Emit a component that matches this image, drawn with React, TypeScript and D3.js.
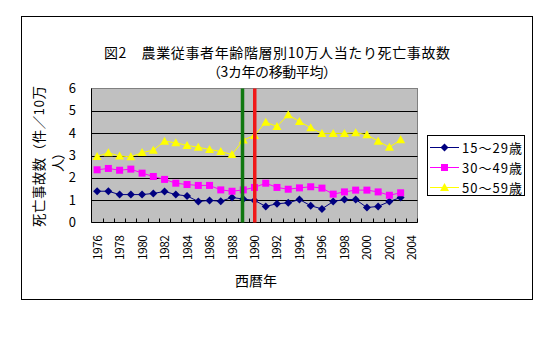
import React from "react";
import * as d3 from "d3";

const years = d3.range(1976, 2005).map(String);
const dataYears = d3.range(1976, 2004).map(String);
const tickLabels = d3.range(1976, 2005, 2).map(String);
const yTicks = [0, 1, 2, 3, 4, 5, 6];

const s1529 = [1.40, 1.40, 1.25, 1.25, 1.25, 1.30, 1.39, 1.25, 1.19, 0.94, 0.99, 0.95, 1.12, 1.05, 0.99, 0.72, 0.84, 0.88, 1.03, 0.75, 0.61, 0.94, 1.03, 1.03, 0.67, 0.72, 0.94, 1.12];
const s3049 = [2.36, 2.42, 2.34, 2.39, 2.21, 2.06, 1.93, 1.76, 1.70, 1.66, 1.66, 1.46, 1.40, 1.46, 1.57, 1.76, 1.57, 1.49, 1.55, 1.60, 1.54, 1.27, 1.37, 1.45, 1.45, 1.37, 1.22, 1.33];
const s5059 = [2.96, 3.12, 2.98, 2.94, 3.13, 3.24, 3.64, 3.57, 3.45, 3.37, 3.27, 3.18, 3.04, 3.69, 3.90, 4.49, 4.30, 4.82, 4.52, 4.24, 3.99, 3.99, 3.99, 4.02, 3.93, 3.64, 3.37, 3.70];

const seriesNames = ["15～29歳", "30～49歳", "50～59歳"];
const seriesColors = ["#000080", "#FF00FF", "#FFFF00"];
const seriesShapes = ["diamond", "square", "triangle"];
const markerLines = ["1989", "1990"];
const markerColors = ["#107810", "#F01818"];

const FONT = "'Noto Sans CJK JP', 'Noto Sans', sans-serif";

function Marker({ shape, x, y, color }: { shape: string; x: number; y: number; color: string }) {
  if (shape === "diamond") {
    const r = 4;
    return <path d={`M${x},${y - r}L${x + r},${y}L${x},${y + r}L${x - r},${y}Z`} fill={color} />;
  }
  if (shape === "square") {
    const r = 3.5;
    return <rect x={x - r} y={y - r} width={2 * r} height={2 * r} fill={color} />;
  }
  const r = 4.5;
  return <path d={`M${x},${y - r}L${x + r},${y + r - 1}L${x - r},${y + r - 1}Z`} fill={color} />;
}

export default function App() {
  const W = 551, H = 338;
  const left = 91.5, right = 417.5, top = 88.5, bottom = 222.5;
  const x = d3.scaleBand<string>().domain(years).range([left, right]).padding(0);
  const y = d3.scaleLinear().domain([0, 6]).range([bottom, top]);
  const bw = x.bandwidth();
  const cx = (yr: string) => (x(yr) as number) + bw / 2;
  const series = [s1529, s3049, s5059];
  const line = d3.line<number>().x((_, i) => cx(dataYears[i])).y((v) => y(v));

  return (
    <svg width={W} height={H} style={{ position: "absolute", left: 0, top: 0, fontFamily: FONT }}>
      <rect x={0} y={0} width={W} height={H} fill="#fff" />
      <rect x={21.5} y={16.5} width={511} height={283} fill="#fff" stroke="#000" strokeWidth={1} />
      <text x={104} y={58} fontSize={14} fill="#000" textLength={346} lengthAdjust="spacing">図2　農業従事者年齢階層別10万人当たり死亡事故数</text>
      <text x={207} y={77} fontSize={14} fill="#000" textLength={130} lengthAdjust="spacing">（3カ年の移動平均）</text>

      <rect x={left} y={top} width={right - left} height={bottom - top} fill="#C0C0C0" stroke="#808080" strokeWidth={1} />
      {yTicks.slice(1, -1).map((t) => (
        <line key={t} x1={left} x2={right} y1={Math.round(y(t)) + 0.5} y2={Math.round(y(t)) + 0.5} stroke="#000" strokeWidth={1} />
      ))}
      <line x1={left} x2={left} y1={top} y2={bottom} stroke="#000" />
      <line x1={left} x2={right} y1={bottom} y2={bottom} stroke="#000" />
      {years.slice(1).map((yr) => (
        <line key={yr} x1={Math.round(x(yr) as number) + 0.5} x2={Math.round(x(yr) as number) + 0.5} y1={bottom} y2={bottom - 4} stroke="#000" />
      ))}
      <line x1={right} x2={right} y1={bottom} y2={bottom - 4} stroke="#000" />

      {yTicks.map((t) => (
        <text key={t} x={76} y={y(t) + 4.5} textAnchor="end" fontSize={13} fill="#000">{t}</text>
      ))}
      {tickLabels.map((lb) => (
        <text key={lb} transform={`translate(${cx(lb) + 4.5},235) rotate(-90)`} textAnchor="end" fontSize={12} fill="#000" textLength={25} lengthAdjust="spacing">{lb}</text>
      ))}
      <text x={256} y={286} textAnchor="middle" fontSize={14} fill="#000" textLength={42} lengthAdjust="spacing">西暦年</text>
      <text transform="translate(44,227) rotate(-90)" fontSize={13.5} fill="#000" textLength={141} lengthAdjust="spacing">死亡事故数（件／10万</text>
      <text transform="translate(63,172) rotate(-90)" fontSize={13.5} fill="#000" textLength={26} lengthAdjust="spacing">人）</text>

      {series.map((s, si) => (
        <g key={si}>
          <path d={line(s) || ""} fill="none" stroke={seriesColors[si]} strokeWidth={1} />
          {s.map((v, i) => (
            <Marker key={i} shape={seriesShapes[si]} x={cx(dataYears[i])} y={y(v)} color={seriesColors[si]} />
          ))}
        </g>
      ))}

      {markerLines.map((yr, i) => (
        <rect key={yr} x={cx(yr) - 1.5 - (i === 0 ? 1 : 0)} y={top} width={3.5} height={bottom - top} fill={markerColors[i]} />
      ))}

      <rect x={427.5} y={135.5} width={97} height={60} fill="#fff" stroke="#000" strokeWidth={1} />
      {seriesNames.map((n, i) => {
        const ly = 147.5 + i * 20;
        return (
          <g key={n}>
            <line x1={430} x2={459} y1={ly} y2={ly} stroke={seriesColors[i]} />
            <Marker shape={seriesShapes[i]} x={444.5} y={ly} color={seriesColors[i]} />
            <text x={462} y={ly + 5} fontSize={13} fill="#000" textLength={60} lengthAdjust="spacing">{n}</text>
          </g>
        );
      })}
    </svg>
  );
}
